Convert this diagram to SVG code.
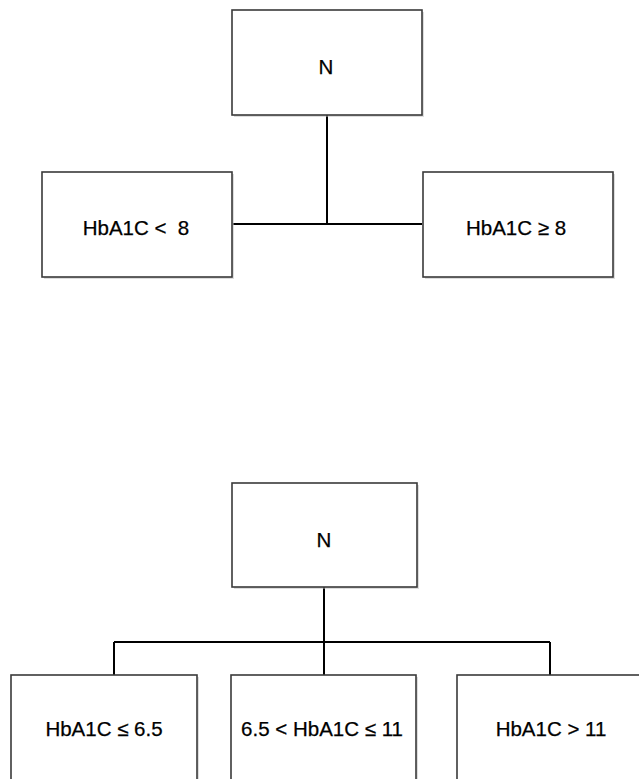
<svg xmlns="http://www.w3.org/2000/svg" width="639" height="779" viewBox="0 0 639 779">
<style>
.box{fill:#fff;stroke:#3a3a3a;stroke-width:1.6}
.sh{fill:#bbb;opacity:0.5}
.lbl{font-family:"Liberation Sans","Noto Sans",sans-serif;font-size:20.5px;fill:#000;stroke:#000;stroke-width:0.25;text-anchor:middle}
.con{stroke:#000;stroke-width:2;fill:none}
</style>
<rect width="639" height="779" fill="#fff"/>
<g id="connectors">
<path class="con" d="M327 115 V224 M233 224 H422"/>
<path class="con" d="M324 587 V642 M114 642 H550 M114 642 V675 M324 642 V675 M550 642 V675"/>
</g>
<g id="top-n">
<rect class="sh" x="234" y="12" width="190" height="105"/>
<rect class="box" x="232" y="10" width="190" height="105"/>
<text class="lbl" x="326" y="74">N</text>
</g>
<g id="top-lt8">
<rect class="sh" x="44" y="174" width="190" height="105"/>
<rect class="box" x="42" y="172" width="190" height="105"/>
<text class="lbl" x="136" y="235" xml:space="preserve">HbA1C &lt;  8</text>
</g>
<g id="top-ge8">
<rect class="sh" x="425" y="174" width="190" height="105"/>
<rect class="box" x="423" y="172" width="190" height="105"/>
<text class="lbl" x="516" y="235">HbA1C ≥ 8</text>
</g>
<g id="bot-n">
<rect class="sh" x="234" y="485" width="185" height="104"/>
<rect class="box" x="232" y="483" width="185" height="104"/>
<text class="lbl" x="324" y="547">N</text>
</g>
<g id="bot-le65">
<rect class="sh" x="13" y="677" width="186" height="110"/>
<rect class="box" x="11" y="675" width="186" height="110"/>
<text class="lbl" x="104" y="736">HbA1C ≤ 6.5</text>
</g>
<g id="bot-mid">
<rect class="sh" x="233" y="677" width="185" height="110"/>
<rect class="box" x="231" y="675" width="185" height="110"/>
<text class="lbl" x="322" y="736">6.5 &lt; HbA1C ≤ 11</text>
</g>
<g id="bot-gt11">
<rect class="sh" x="459" y="677" width="190" height="110"/>
<rect class="box" x="457" y="675" width="190" height="110"/>
<text class="lbl" x="551" y="736">HbA1C &gt; 11</text>
</g>
</svg>
